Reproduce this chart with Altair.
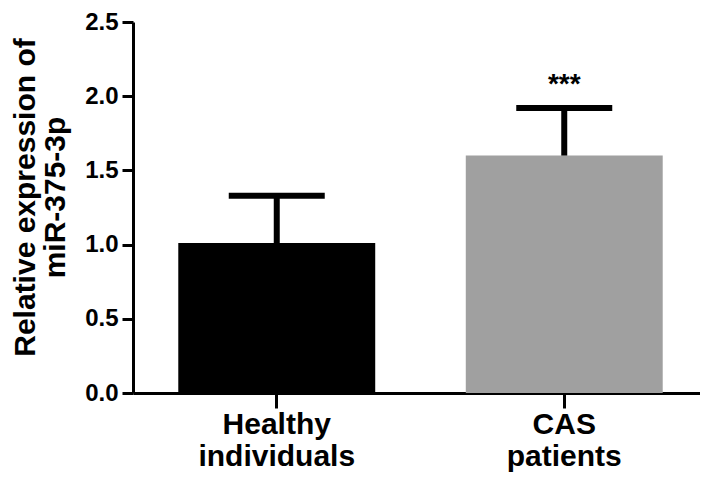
import altair as alt
import pandas as pd

groups = ["Healthy individuals", "CAS patients"]
means = [1.01, 1.60]
upper = [1.33, 1.92]
colors = ["#000000", "#a0a0a0"]
sig_labels = ["", "***"]
sig_pos = [2.02, 2.02]
y_ticks = [0.0, 0.5, 1.0, 1.5, 2.0, 2.5]

df = pd.DataFrame({"group": groups, "mean": means, "upper": upper,
                   "color": colors, "sig": sig_labels, "sig_y": sig_pos})

FONT = "Liberation Sans"

x_scale = alt.Scale(paddingInner=0.315, paddingOuter=0.1575, range=[0, 575])

x_enc = alt.X("group:N", sort=groups, scale=x_scale,
              axis=alt.Axis(title=None, labelAngle=0, labelFont=FONT,
                            labelFontSize=30, labelFontWeight="bold",
                            labelColor="black",
                            labelExpr="split(datum.label, ' ')",
                            labelLineHeight=32, labelPadding=1,
                            labelBaseline="top",
                            domainColor="black", domainWidth=3,
                            tickColor="black", tickWidth=3, tickSize=15))

y_scale = alt.Scale(domain=[0, 2.5], nice=False)
y_axis = alt.Axis(values=y_ticks, format=".1f", labelFont=FONT,
                  labelFontSize=24, labelFontWeight="bold", labelColor="black",
                  labelPadding=4, tickSize=11, tickWidth=3, tickColor="black",
                  domainColor="black", domainWidth=3, grid=False,
                  title=["Relative expression of", "miR-375-3p"],
                  titleFont=FONT, titleFontSize=30, titleFontWeight="bold",
                  titleColor="black", titleAngle=270, titleAlign="center",
                  titleBaseline="alphabetic", titleX=-99, titleY=175,
                  titleLineHeight=30)

base = alt.Chart(df)

bars = base.mark_bar().encode(
    x=x_enc,
    y=alt.Y("mean:Q", scale=y_scale, axis=y_axis),
    color=alt.Color("color:N", scale=None),
)

stem = base.mark_rule(color="black", strokeWidth=6).encode(
    x=alt.X("group:N", sort=groups),
    y="mean:Q",
    y2="upper:Q",
)

cap = base.mark_tick(color="black", size=96, thickness=6, opacity=1).encode(
    x=alt.X("group:N", sort=groups),
    y="upper:Q",
)

stars = base.mark_text(font=FONT, fontSize=28, fontWeight="bold",
                       color="black", baseline="alphabetic").encode(
    x=alt.X("group:N", sort=groups),
    y="sig_y:Q",
    text="sig:N",
)

chart = alt.layer(bars, stem, cap, stars).properties(
    width=567, height=371,
    background="white",
    autosize=alt.AutoSizeParams(type="none"),
    padding={"left": 125, "top": 14, "right": 0, "bottom": 79},
).configure_view(stroke=None)

chart.save("out.html", embed_options={"renderer": "svg", "actions": False})
